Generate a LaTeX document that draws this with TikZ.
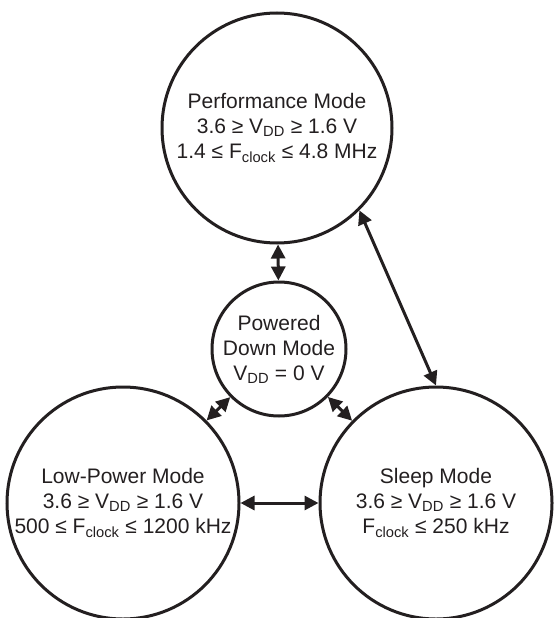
\documentclass[tikz,border=0pt]{standalone}
\usepackage{fontspec}
\setmainfont{Liberation Sans}
\usetikzlibrary{arrows.meta}
\definecolor{ink}{HTML}{231F20}
\newcommand{\vdd}{V\textsubscript{DD}}
\newcommand{\fclk}{F\textsubscript{clock}}

\begin{document}
\begin{tikzpicture}[x=1pt,y=-1pt,
  mode/.style={circle,draw=ink,line width=3pt,text=ink,align=center,inner sep=0pt,font=\fontsize{21}{25}\selectfont},
  link/.style={draw=ink,line width=3pt,{Triangle[length=14pt,width=14pt]}-{Triangle[length=14pt,width=14pt]}}]
\useasboundingbox (0,0) rectangle (554,618);
\node[mode,minimum size=230pt] (perf) at (277,128) {Performance Mode\\3.6 ≥ \vdd{} ≥ 1.6 V\\1.4 ≤ \fclk{} ≤ 4.8 MHz};
\node[mode,minimum size=134pt] (off) at (279,349) {Powered\\Down Mode\\\vdd{} = 0 V};
\node[mode,minimum size=232pt] (low) at (123,503) {Low-Power Mode\\3.6 ≥ \vdd{} ≥ 1.6 V\\500 ≤ \fclk{} ≤ 1200 kHz};
\node[mode,minimum size=232pt] (sleep) at (436,503) {Sleep Mode\\3.6 ≥ \vdd{} ≥ 1.6 V\\\fclk{} ≤ 250 kHz};
\draw[link] (perf) -- (off);
\draw[link] (perf.-45) -- (sleep.north);
\draw[link] (off) -- (low);
\draw[link] (off) -- (sleep);
\draw[link] (low.east) -- (sleep.west);
\end{tikzpicture}
\end{document}
